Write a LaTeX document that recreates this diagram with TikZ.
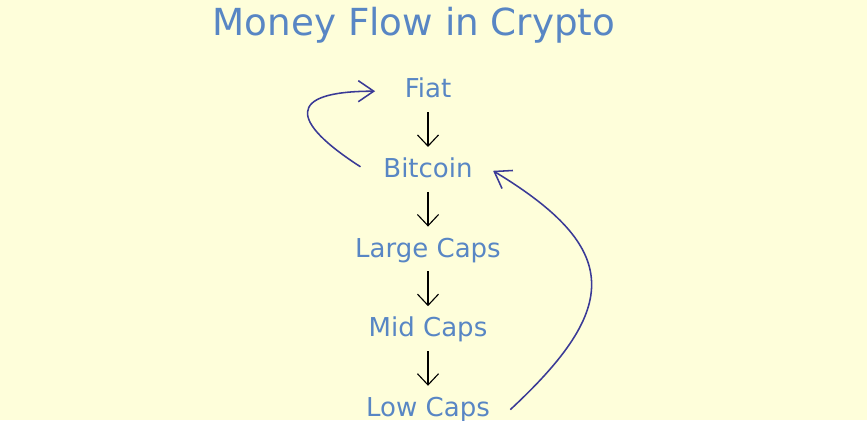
\documentclass[tikz,border=0pt]{standalone}
\usepackage{fontspec}
\setmainfont{DejaVu Sans}
\usepackage{tikz}
\usetikzlibrary{arrows.meta}
\definecolor{bgyellow}{RGB}{254,254,218}
\definecolor{textblue}{RGB}{88,134,196}
\definecolor{curveblue}{RGB}{58,58,150}
\tikzstyle{heading} = [text=textblue, font=\fontsize{26.5}{30}\selectfont, anchor=base]
\tikzstyle{coin} = [text=textblue, font=\fontsize{18.5}{20}\selectfont, text height=13.5pt, text depth=4pt, inner sep=3pt]
\tikzstyle{flow} = [black, line width=0.8pt, -{Straight Barb[length=8pt,width=15pt]}, shorten <=3pt, shorten >=5pt]
\tikzstyle{backflow} = [curveblue, line width=1.1pt, -{Straight Barb[length=11pt,width=15pt]}]

\begin{document}
\begin{tikzpicture}[node distance=1.99cm]

    % Background
    \fill [bgyellow] (0,0) rectangle (21.675,10.5);
    \useasboundingbox (0,0) rectangle (21.675,10.5);

    % Nodes
    \node (title) [heading] at (10.35,9.6) {Money Flow in Crypto};
    \node (fiat) [coin] at (10.7,8.22) {Fiat};
    \node (bitcoin) [coin, below of=fiat] {Bitcoin};
    \node (large) [coin, below of=bitcoin] {Large Caps};
    \node (mid) [coin, below of=large] {Mid Caps};
    \node (low) [coin, below of=mid] {Low Caps};

    % Arrows
    \draw [flow] (fiat) -- (bitcoin);
    \draw [flow] (bitcoin) -- (large);
    \draw [flow] (large) -- (mid);
    \draw [flow] (mid) -- (low);

    % Curves back up
    \draw [backflow] ([xshift=-0.46cm, yshift=0.1cm]bitcoin.west)
        .. controls +(-1.75,1.125) and +(-2.25,0) .. ([xshift=-0.63cm]fiat.west);
    \draw [backflow] ([xshift=0.4cm]low.east)
        .. controls +(2.75,2.55) and +(3.225,-1.95) .. ([xshift=0.4cm]bitcoin.east);

\end{tikzpicture}
\end{document}
